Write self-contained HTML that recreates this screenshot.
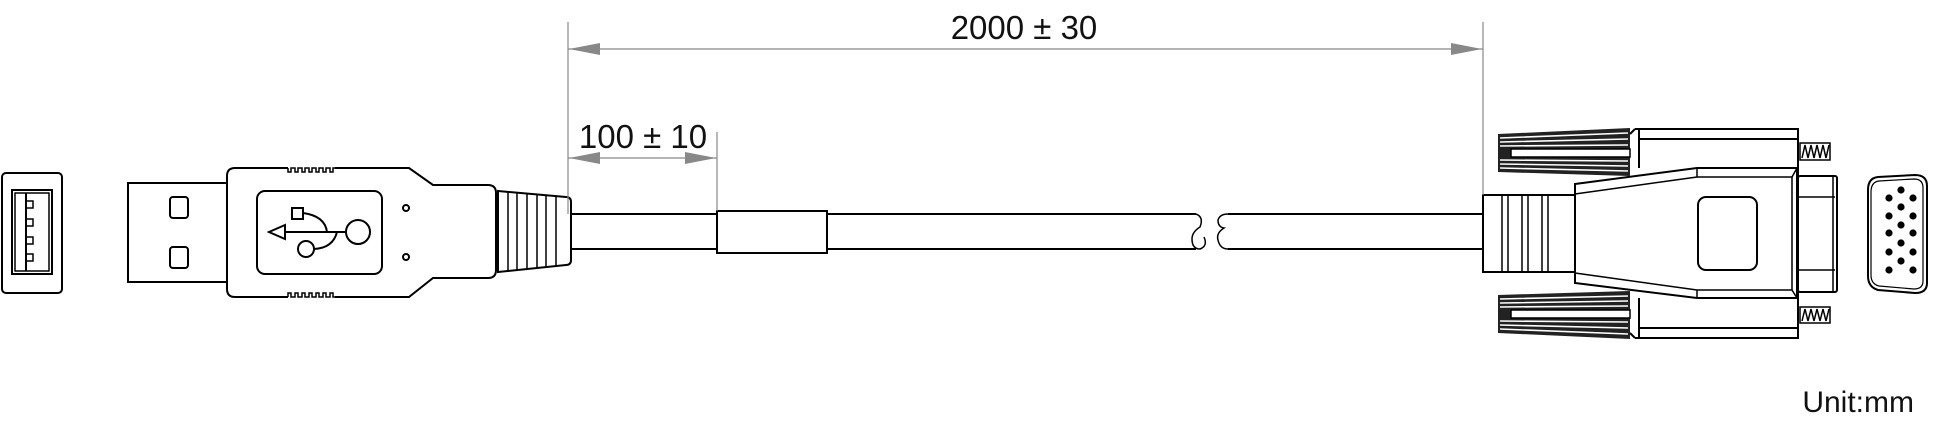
<!DOCTYPE html>
<html><head><meta charset="utf-8"><style>
html,body{margin:0;padding:0;background:#fff;}
svg{display:block;}
text{font-family:"Liberation Sans",sans-serif;fill:#111;}
</style></head><body>
<svg width="1934" height="439" viewBox="0 0 1934 439" xmlns="http://www.w3.org/2000/svg">
<g fill="none" stroke="#000" stroke-width="2">
<!-- female USB -->
<rect x="2" y="173" width="60" height="120" rx="4"/>
<rect x="12" y="190" width="40" height="84"/>
<rect x="15" y="193" width="34" height="78" stroke-width="1.5"/>
<line x1="26" y1="193" x2="26" y2="271"/>
<rect x="26" y="201" width="7" height="7" stroke-width="1.5"/>
<rect x="26" y="219" width="7" height="7" stroke-width="1.5"/>
<rect x="26" y="237" width="7" height="7" stroke-width="1.5"/>
<rect x="26" y="254" width="7" height="7" stroke-width="1.5"/>
<!-- USB male metal -->
<rect x="128" y="183" width="99" height="99"/>
<rect x="170" y="197" width="18" height="21" rx="3"/>
<rect x="170" y="247" width="18" height="21" rx="3"/>
<!-- body -->
<path d="M235,168 H288 M335,168 H409 L433,185 H488 Q496,185 496,193 V270 Q496,278 488,278 H433 L409,297 H335 M288,297 H235 Q227,297 227,289 V176 Q227,168 235,168"/>
<path d="M288,168 v4 h3 v-4 h4 v4 h3 v-4 h4 v4 h3 v-4 h4 v4 h3 v-4 h4 v4 h3 v-4 h4 v4 h3 v-4 h4 v4 h3 v-4 h2" stroke-width="1.5"/>
<path d="M288,297 v-4 h3 v4 h4 v-4 h3 v4 h4 v-4 h3 v4 h4 v-4 h3 v4 h4 v-4 h3 v4 h4 v-4 h3 v4 h4 v-4 h3 v4 h2" stroke-width="1.5"/>
<rect x="257" y="191" width="125" height="83" rx="8"/>
<circle cx="406" cy="208" r="3"/>
<circle cx="406" cy="257" r="3"/>
<!-- USB logo -->
<circle cx="358" cy="232" r="12"/>
<circle cx="306" cy="249" r="8"/>
<rect x="292" y="208" width="11" height="11"/>
<path d="M346,232 H285 M285,225 L269,232 L285,239 Z" />
<path d="M303,213 Q325,216 327,232 M314,249 Q333,248 337,232"/>
<!-- strain relief USB -->
<path d="M498,191 L566,197 Q571,197 571,202 V260 Q571,265 566,265 L498,272 Z"/>
<path d="M508,191 V272 M517,192 V271 M527,193 V270 M537,194 V269 M546,195 V268 M556,196 V267" stroke-width="1.5"/>
<!-- cable -->
<path d="M571,214 H1196 M571,249 H1196 M1228,214 H1483 M1228,249 H1483"/>
<rect x="717" y="211" width="110" height="42" fill="#fff"/>
<!-- break -->
<path d="M1196,214 q8,3 4,13 q-8,5 -8,12 q0,10 8,10 q8,-3 4,-12 M1228,214 q-8,0 -10,6 q0,7 6,8 q-8,5 -6,12 q2,9 10,9" stroke-width="1.5"/>
<!-- VGA strain relief -->
<rect x="1483" y="195" width="92" height="77"/>
<path d="M1502,195 V272 M1508,195 V272 M1522,195 V272 M1528,195 V272 M1542,195 V272 M1548,195 V272" stroke-width="1.5"/>
<!-- flanges -->
<path d="M1635,129 H1798 V177 M1630,134 L1635,129 M1639,129 V168 M1639,139 H1798"/>
<path d="M1635,338 H1798 V290 M1630,333 L1635,338 M1639,338 V298 M1639,328 H1798"/>
<!-- shell -->
<path d="M1575,184 L1697,168 H1797 V298 H1697 L1575,283 Z" fill="#fff"/>
<path d="M1575,194 L1697,177 H1792 V290 H1697 L1575,273" stroke-width="1.5"/>
<path d="M1697,168 V177 M1697,290 V298 M1792,177 L1797,168 M1792,290 L1797,298" stroke-width="1.5"/>
<rect x="1698" y="197" width="59" height="73" rx="8"/>
<!-- D-sub sleeve -->
<rect x="1798" y="176" width="39" height="116" rx="2"/>
<path d="M1798,197 H1835 M1798,270 H1835 M1833,177 V291" stroke-width="1.5"/>
<!-- screw threads -->
<rect x="1800" y="143" width="30" height="17" stroke-width="1.5"/>
<path d="M1802,158 l3,-13 l3,13 l3,-13 l3,13 l3,-13 l3,13 l3,-13 l3,13 l3,-13" stroke-width="1.5"/>
<rect x="1800" y="307" width="30" height="16" stroke-width="1.5"/>
<path d="M1802,321 l3,-12 l3,12 l3,-12 l3,12 l3,-12 l3,12 l3,-12 l3,12 l3,-12" stroke-width="1.5"/>
<!-- VGA face -->
<path d="M1878,177 Q1868,178 1868,190 V276 Q1868,287 1878,290 L1915,293 Q1927,293 1927,283 V186 Q1927,175 1915,175 Z"/>
<path d="M1879,181 Q1871,182 1871,192 V275 Q1871,284 1879,286 L1914,289 Q1923,289 1923,281 V188 Q1923,179 1914,179 Z" stroke-width="1.2"/>
</g>
<!-- thumbscrews -->
<g>
<path d="M1498,134 L1630,128 L1630,149 L1511,149 L1511,157 L1630,157 L1630,176 L1498,172 L1498,157 L1498,147 Z" fill="#222"/>
<path d="M1500,138 L1628,133 M1500,142 L1628,139 M1500,146 L1628,145 M1500,160 L1628,161 M1500,164 L1628,166 M1500,168 L1628,171" stroke="#fff" stroke-width="1.5"/>
<rect x="1511" y="149" width="119" height="8" fill="#fff" stroke="#000" stroke-width="1.5"/>
<path d="M1498,295 L1630,291 L1630,310 L1511,310 L1511,318 L1630,318 L1630,339 L1498,333 L1498,318 L1498,308 Z" fill="#222"/>
<path d="M1500,299 L1628,296 M1500,303 L1628,301 M1500,307 L1628,306 M1500,321 L1628,322 M1500,325 L1628,328 M1500,329 L1628,334" stroke="#fff" stroke-width="1.5"/>
<rect x="1511" y="310" width="119" height="8" fill="#fff" stroke="#000" stroke-width="1.5"/>
</g>
<!-- VGA pins -->
<g fill="#000">
<circle cx="1889" cy="198" r="3.6"/><circle cx="1889" cy="216" r="3.6"/><circle cx="1889" cy="233" r="3.6"/><circle cx="1889" cy="252" r="3.6"/><circle cx="1889" cy="270" r="3.6"/>
<circle cx="1901" cy="190" r="3.6"/><circle cx="1901" cy="207" r="3.6"/><circle cx="1901" cy="225" r="3.6"/><circle cx="1901" cy="243" r="3.6"/><circle cx="1901" cy="261" r="3.6"/>
<circle cx="1913" cy="198" r="3.6"/><circle cx="1913" cy="216" r="3.6"/><circle cx="1913" cy="233" r="3.6"/><circle cx="1913" cy="252" r="3.6"/><circle cx="1913" cy="270" r="3.6"/>
</g>
<!-- dimensions -->
<g stroke="#888" stroke-width="1.2" fill="none">
<line x1="568" y1="22" x2="568" y2="214"/>
<line x1="1483" y1="22" x2="1483" y2="195"/>
<line x1="568" y1="49" x2="1483" y2="49"/>
<line x1="717" y1="132" x2="717" y2="211"/>
<line x1="568" y1="158" x2="717" y2="158"/>
</g>
<g fill="#888">
<path d="M569,49 L600,43 L600,55 Z"/>
<path d="M1482,49 L1451,43 L1451,55 Z"/>
<path d="M569,158 L600,152 L600,164 Z"/>
<path d="M716,158 L685,152 L685,164 Z"/>
</g>
<text x="1024" y="39" font-size="33" text-anchor="middle">2000 ± 30</text>
<text x="643" y="148" font-size="33" text-anchor="middle">100 ± 10</text>
<text x="1914" y="412" font-size="30" text-anchor="end">Unit:mm</text>
</svg>
</body></html>
